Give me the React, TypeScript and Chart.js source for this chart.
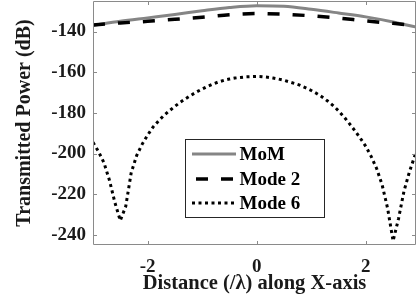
import React, { useEffect, useRef } from 'react';
import { Chart, registerables } from 'chart.js';

Chart.register(...registerables);

// Distance (/lambda) sample positions
const xFine = [
  -3.0, -2.9, -2.8, -2.7, -2.6, -2.5, -2.4, -2.3, -2.2, -2.1,
  -2.0, -1.9, -1.8, -1.7, -1.6, -1.5, -1.4, -1.3, -1.2, -1.1,
  -1.0, -0.9, -0.8, -0.7, -0.6, -0.5, -0.4, -0.3, -0.2, -0.1,
  0.0, 0.1, 0.2, 0.3, 0.4, 0.5, 0.6, 0.7, 0.8, 0.9,
  1.0, 1.1, 1.2, 1.3, 1.4, 1.5, 1.6, 1.7, 1.8, 1.9,
  2.0, 2.1, 2.2, 2.3, 2.4, 2.5, 2.6, 2.7, 2.8, 2.9, 3.0,
];
const mode6 = [
  -194.5, -199, -204.5, -213, -224, -233, -226, -209.5, -201, -195.5,
  -191, -187, -184, -181.3, -179, -176.8, -174.8, -173, -171.3, -169.7,
  -168.3, -167, -165.8, -164.8, -164, -163.4, -162.9, -162.6, -162.3, -162.2,
  -162.1, -162.2, -162.5, -162.9, -163.4, -164, -164.8, -165.6, -166.5, -167.7,
  -169, -170.5, -172.2, -174.2, -176.4, -179, -182, -185.3, -188.8, -192.5,
  -196.5, -201.5, -207.5, -215.5, -227, -243, -232, -218.5, -209, -201, -195,
];
const xCoarse = [-3, -2.5, -2, -1.5, -1, -0.5, 0, 0.5, 1, 1.5, 2, 2.5, 3];
const mom = [-137, -135, -133.3, -131.6, -129.8, -128.2, -127.3, -127.6, -129.1, -130.9, -132.8, -135.3, -138.3];
const mode2 = [-136.8, -135.8, -135, -134, -133, -131.8, -131.2, -131.5, -132.3, -133.4, -134.8, -136, -137.3];

const seriesLabels = ['MoM', 'Mode 2', 'Mode 6'];
const xTicks = [-2, 0, 2];
const yTicks = [-240, -220, -200, -180, -160, -140];

const FONT_FAMILY = "'Liberation Serif', 'Times New Roman', serif";
const TEXT_COLOR = '#1a1a1a';
const FRAME_COLOR = '#8a8a8a';

const framePlugin = {
  id: 'frameTicks',
  afterDatasetsDraw(chart: any) {
    const { ctx, chartArea: ca, scales } = chart;
    const L = 4;
    ctx.save();
    ctx.strokeStyle = FRAME_COLOR;
    ctx.lineWidth = 1;
    ctx.setLineDash([]);
    ctx.beginPath();
    ctx.rect(ca.left + 0.5, ca.top + 0.5, ca.right - ca.left - 1, ca.bottom - ca.top - 1);
    xTicks.forEach((v) => {
      const px = Math.round(scales.x.getPixelForValue(v)) + 0.5;
      ctx.moveTo(px, ca.bottom);
      ctx.lineTo(px, ca.bottom - L);
      ctx.moveTo(px, ca.top);
      ctx.lineTo(px, ca.top + L);
    });
    yTicks.forEach((v) => {
      const py = Math.round(scales.y.getPixelForValue(v)) + 0.5;
      ctx.moveTo(ca.left, py);
      ctx.lineTo(ca.left + L, py);
      ctx.moveTo(ca.right, py);
      ctx.lineTo(ca.right - L, py);
    });
    ctx.stroke();
    ctx.restore();
  },
};

const legendPlugin = {
  id: 'boxLegend',
  afterDraw(chart: any) {
    const { ctx, chartArea: ca } = chart;
    const w = 139;
    const h = 78;
    const left = Math.round((ca.left + ca.right) / 2 - w / 2) + 0.5;
    const top = ca.top + 138 + 0.5;
    ctx.save();
    ctx.fillStyle = '#ffffff';
    ctx.fillRect(left, top, w, h);
    ctx.strokeStyle = '#262626';
    ctx.lineWidth = 1;
    ctx.setLineDash([]);
    ctx.strokeRect(left, top, w, h);
    const rows = [14, 39, 63.5];
    chart.data.datasets.forEach((ds: any, i: number) => {
      const y = Math.round(top + rows[i]);
      ctx.beginPath();
      ctx.strokeStyle = ds.borderColor;
      ctx.lineWidth = ds.borderWidth;
      ctx.lineCap = 'butt';
      ctx.setLineDash(ds.borderDash || []);
      ctx.lineDashOffset = i === 1 ? 21 : 0;
      ctx.moveTo(left + 6.5, y);
      ctx.lineTo(left + 50.5, y);
      ctx.stroke();
      ctx.setLineDash([]);
      ctx.fillStyle = '#000';
      ctx.font = `bold 19px ${FONT_FAMILY}`;
      ctx.textBaseline = 'middle';
      ctx.textAlign = 'left';
      ctx.fillText(ds.label, left + 54, y + 1);
    });
    ctx.restore();
  },
};

export default function App() {
  const ref = useRef<HTMLCanvasElement | null>(null);

  useEffect(() => {
    document.body.style.margin = '0';
    if (!ref.current) return;
    const tickFont = { family: FONT_FAMILY, size: 19, weight: 'bold' as const };
    const chart = new Chart(ref.current, {
      type: 'line',
      data: {
        datasets: [
          {
            label: seriesLabels[0],
            data: xCoarse.map((x, i) => ({ x, y: mom[i] })),
            borderColor: '#858585',
            borderWidth: 3,
            pointRadius: 0,
            cubicInterpolationMode: 'monotone',
            fill: false,
            order: 3,
          },
          {
            label: seriesLabels[1],
            data: xCoarse.map((x, i) => ({ x, y: mode2[i] })),
            borderColor: '#000000',
            borderWidth: 3.5,
            borderDash: [12, 13],
            pointRadius: 0,
            cubicInterpolationMode: 'monotone',
            fill: false,
            order: 2,
          },
          {
            label: seriesLabels[2],
            data: xFine.map((x, i) => ({ x, y: mode6[i] })),
            borderColor: '#000000',
            borderWidth: 3,
            borderDash: [3, 3.5],
            borderCapStyle: 'butt',
            pointRadius: 0,
            fill: false,
            order: 1,
          },
        ],
      },
      options: {
        animation: false,
        responsive: false,
        devicePixelRatio: 1,
        layout: { padding: { top: 1, right: 1, left: 0, bottom: 0 } },
        plugins: {
          legend: { display: false },
          tooltip: { enabled: false },
        },
        scales: {
          x: {
            type: 'linear',
            min: -3,
            max: 2.92,
            grid: { display: false, drawTicks: false },
            border: { display: false },
            ticks: { font: tickFont, color: TEXT_COLOR, padding: 11, maxRotation: 0 },
            afterBuildTicks: (s: any) => {
              s.ticks = xTicks.map((v) => ({ value: v }));
            },
            afterFit: (s: any) => {
              s.height = 63;
              s.paddingLeft = 0;
              s.paddingRight = 0;
              s.paddingTop = 0;
              s.paddingBottom = 0;
            },
            title: {
              display: true,
              text: 'Distance (/λ) along X-axis',
              font: { family: FONT_FAMILY, size: 20.5, weight: 'bold' },
              color: TEXT_COLOR,
              padding: { top: 0, bottom: 12 },
            },
          },
          y: {
            type: 'linear',
            min: -245,
            max: -125,
            grid: { display: false, drawTicks: false },
            border: { display: false },
            ticks: { font: tickFont, color: TEXT_COLOR, padding: 7 },
            afterBuildTicks: (s: any) => {
              s.ticks = yTicks.map((v) => ({ value: v }));
            },
            afterFit: (s: any) => {
              s.width = 93;
              s.paddingLeft = 0;
              s.paddingRight = 0;
              s.paddingTop = 0;
              s.paddingBottom = 0;
            },
            title: {
              display: true,
              text: 'Transmitted Power (dB)',
              font: { family: FONT_FAMILY, size: 20, weight: 'bold' },
              color: TEXT_COLOR,
              padding: { top: 13, bottom: 0 },
            },
          },
        },
      },
      plugins: [framePlugin, legendPlugin],
    } as any);
    return () => chart.destroy();
  }, []);

  return (
    <div style={{ width: 417, height: 308 }}>
      <canvas ref={ref} width={417} height={308} style={{ display: 'block', width: 417, height: 308 }} />
    </div>
  );
}
